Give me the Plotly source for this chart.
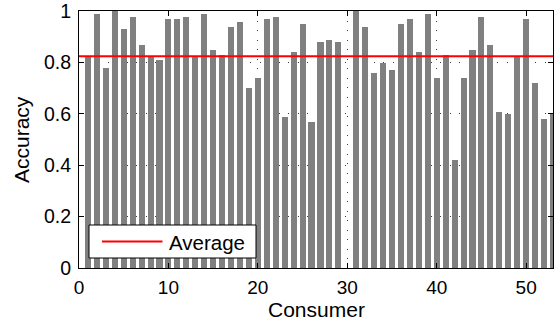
import plotly.graph_objects as go

consumers = list(range(1, 54))
accuracy = [
    0.820, 0.988, 0.778, 1.000, 0.930, 0.977, 0.868, 0.820, 0.809, 0.969,
    0.969, 0.977, 0.820, 0.988, 0.848, 0.829, 0.938, 0.957, 0.700, 0.739,
    0.969, 0.977, 0.588, 0.840, 0.949, 0.568, 0.879, 0.887, 0.879, 0.000,
    1.000, 0.938, 0.759, 0.798, 0.770, 0.949, 0.969, 0.840, 0.988, 0.739,
    0.829, 0.420, 0.739, 0.848, 0.977, 0.868, 0.607, 0.599, 0.820, 0.969,
    0.720, 0.580, 0.599,
]
average = 0.824
x_range = [0, 53]
x_ticks = [0, 10, 20, 30, 40, 50]
y_ticks = [0, 0.2, 0.4, 0.6, 0.8, 1]
legend_label = "Average"
x_title = "Consumer"
y_title = "Accuracy"

FONT = "Liberation Sans, Arial, Helvetica, sans-serif"

fig = go.Figure()
fig.add_trace(go.Bar(
    x=consumers, y=accuracy, width=0.68,
    marker=dict(color="#808080", line=dict(width=0)),
    showlegend=False, hoverinfo="x+y",
))
fig.add_trace(go.Scatter(
    x=x_range, y=[average, average], mode="lines",
    line=dict(color="#ff0000", width=2.2),
    showlegend=False, cliponaxis=True,
))

L, R, T, B = 79, 553, 11, 268
W, H = 555, 323
def px(xp):
    return (xp - L) / (R - L)
def py(yp):
    return (B - yp) / (B - T)

# legend box (MATLAB style)
fig.add_shape(type="rect", xref="paper", yref="paper",
              x0=px(89), x1=px(256), y0=py(258), y1=py(225),
              line=dict(color="black", width=1), fillcolor="white", layer="above")
fig.add_shape(type="line", xref="paper", yref="paper",
              x0=px(102), x1=px(162.5), y0=py(241.5), y1=py(241.5),
              line=dict(color="#ff0000", width=2), layer="above")
fig.add_annotation(xref="paper", yref="paper", x=px(167), y=py(242),
                   text=legend_label, showarrow=False, xanchor="left", yanchor="middle",
                   font=dict(family=FONT, size=20.5, color="black"))

# axis titles
fig.add_annotation(xref="paper", yref="paper", x=px(316), y=py(309.5),
                   text=x_title, showarrow=False, xanchor="center", yanchor="middle",
                   font=dict(family=FONT, size=21, color="black"))
fig.add_annotation(xref="paper", yref="paper", x=px(21.5), y=py(139.5),
                   text=y_title, showarrow=False, textangle=-90,
                   xanchor="center", yanchor="middle",
                   font=dict(family=FONT, size=21, color="black"))

fig.update_layout(
    width=W, height=H,
    margin=dict(l=L, r=W - R, t=T, b=H - B, autoexpand=False),
    paper_bgcolor="white", plot_bgcolor="white",
    font=dict(family=FONT, size=19, color="black"),
    bargap=0,
)
grid = dict(showgrid=True, gridcolor="#3a3a3a", gridwidth=1, griddash="1px,8.5px")
fig.update_xaxes(
    range=x_range, tickvals=x_ticks, ticks="inside", ticklen=5, tickcolor="black",
    showline=True, linecolor="black", linewidth=1, mirror="ticks",
    zeroline=False, tickfont=dict(size=19), ticklabelstandoff=2,
    ticklabeloverflow="allow", automargin=False, **grid,
)
fig.update_yaxes(
    range=[0, 1], tickvals=y_ticks, ticks="inside", ticklen=5, tickcolor="black",
    showline=True, linecolor="black", linewidth=1, mirror="ticks",
    zeroline=False, tickfont=dict(size=19.5), ticklabelstandoff=3,
    ticklabeloverflow="allow", automargin=False, **grid,
)

fig.write_html("out.html")
